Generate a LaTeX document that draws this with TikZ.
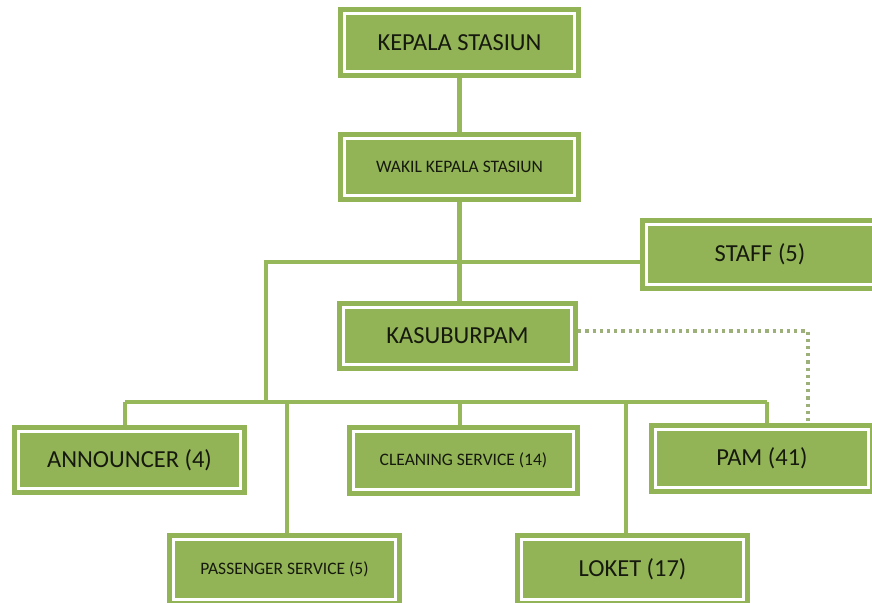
\documentclass[tikz,border=0pt]{standalone}
\usepackage{fontspec}
\setmainfont{Carlito}
\definecolor{boxgreen}{RGB}{146,179,86}
\definecolor{linegreen}{RGB}{150,183,90}
\definecolor{dotgreen}{RGB}{158,176,122}
\definecolor{txt}{RGB}{22,26,14}
\tikzset{
  orgbox/.style={fill=boxgreen, draw=none, inner sep=0pt, text=txt,
    path picture={\draw[white,line width=2.6pt]
      ([shift={(6.5pt,6.5pt)}]path picture bounding box.south west) rectangle
      ([shift={(-6.5pt,-6.5pt)}]path picture bounding box.north east);}},
  big/.style={font=\fontsize{24.5}{28}\selectfont},
  small/.style={font=\fontsize{17.5}{21}\selectfont},
  conn/.style={draw=linegreen, line width=4.5pt},
  dotconn/.style={draw=dotgreen, line width=3.6pt, dash pattern=on 3.2pt off 4pt}
}
\begin{document}
\begin{tikzpicture}[x=1pt,y=1pt]
\useasboundingbox (0,0) rectangle (872,-602);
\fill[white] (0,0) rectangle (872,-602);
\coordinate (j1) at (266,-262);
\coordinate (j2) at (266,-402);
\coordinate (busL) at (125,-402);
\coordinate (busR) at (767,-402);
\coordinate (dA) at (287,-402);
\coordinate (dC) at (460,-402);
\coordinate (dL) at (626,-402);
\coordinate (dotA) at (808,-331);

\node[orgbox,big,minimum width=243pt,minimum height=71pt] (kepala) at (459.5,-42.5) {KEPALA STASIUN};
\node[orgbox,small,minimum width=243pt,minimum height=70pt] (wakil) at (459.5,-167) {WAKIL KEPALA STASIUN};
\node[orgbox,big,minimum width=240pt,minimum height=73pt] (staff) at (760,-254.5) {STAFF (5)};
\node[orgbox,big,minimum width=241pt,minimum height=70pt] (kasub) at (457.5,-336) {KASUBURPAM};
\node[orgbox,big,minimum width=235pt,minimum height=70pt] (announcer) at (129.5,-460) {ANNOUNCER (4)};
\node[orgbox,small,minimum width=233pt,minimum height=71pt] (cleaning) at (463.5,-460.5) {CLEANING SERVICE (14)};
\node[orgbox,big,minimum width=226pt,minimum height=71pt] (pam) at (762,-458.5) {PAM (41)};
\node[orgbox,small,minimum width=235pt,minimum height=73pt] (passenger) at (284.5,-569.5) {PASSENGER SERVICE (5)};
\node[orgbox,big,minimum width=235pt,minimum height=73pt] (loket) at (632.5,-569.5) {LOKET (17)};

\draw[conn] (kepala.south) -- (wakil.north);
\draw[conn] (wakil.south) -- (wakil.south |- kasub.north);
\draw[conn] (j1 -| staff.west) -- (j1) -- (j2);
\draw[conn] (busL) -- (busR);
\draw[conn] (busL) -- (busL |- announcer.north);
\draw[conn] (dA) -- (dA |- passenger.north);
\draw[conn] (dC) -- (dC |- cleaning.north);
\draw[conn] (dL) -- (dL |- loket.north);
\draw[conn] (busR) -- (busR |- pam.north);
\draw[dotconn] (kasub.east |- dotA) -- (dotA) -- (dotA |- pam.north);
\end{tikzpicture}
\end{document}
